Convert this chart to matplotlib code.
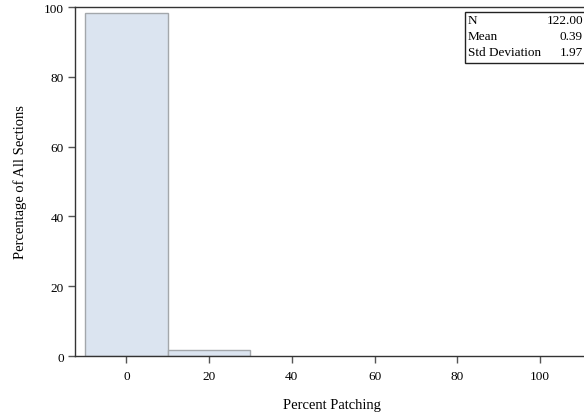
import matplotlib
matplotlib.use("Agg")
import matplotlib.pyplot as plt
from matplotlib.patches import Rectangle

bin_centers = [0, 20]
percentages = [98.36, 1.64]
bin_width = 20
x_ticks = [0, 20, 40, 60, 80, 100]
y_ticks = [0, 20, 40, 60, 80, 100]
stat_labels = ["N", "Mean", "Std Deviation"]
stat_values = ["122.00", "0.39", "1.97"]

plt.rcParams['font.family'] = ['Liberation Serif', 'DejaVu Serif']
plt.rcParams['font.size'] = 9.5

fig = plt.figure(figsize=(5.84, 4.14), dpi=100)
ax = fig.add_axes([75/584, 1-357/414, 1.0 - 75/584 + 0.01, (357-8)/414])

ax.bar(bin_centers, percentages, width=bin_width, color='#dbe4f0',
       edgecolor='#a3a7ab', linewidth=1.0, zorder=2)
ax.set_xlim(-12.4, 112)
ax.set_ylim(0, 100)
ax.set_xticks(x_ticks)
ax.set_yticks(y_ticks)
for s in ['top', 'right', 'left', 'bottom']:
    ax.spines[s].set_color('#333333')
    ax.spines[s].set_linewidth(1.0)
ax.tick_params(length=5, width=1.0, color='#555555', labelsize=9.5, pad=3)
ax.tick_params(axis='x', pad=5)
ax.set_xlabel("Percent Patching", fontsize=10.5, labelpad=11.5)
ax.set_ylabel("Percentage of All Sections", fontsize=10.5, labelpad=12)

# statistics inset box (pixel coordinates)
W, H = 584, 414
x0, y0top, y0bot = 465, 13, 64
fig.patches.append(Rectangle((x0/W, 1-y0bot/H), (W - x0 + 5)/W, (y0bot-y0top)/H,
                             transform=fig.transFigure, fill=True, facecolor='white',
                             edgecolor='#222222', linewidth=1.0, zorder=5))
row_y = [21, 37, 53]
for lab, val, ry in zip(stat_labels, stat_values, row_y):
    fig.text(468/W, 1-ry/H, lab, ha='left', va='center', fontsize=9.5, zorder=6)
    fig.text(583/W, 1-ry/H, val, ha='right', va='center', fontsize=9.5, zorder=6)

fig.savefig("out.png", dpi=100)
